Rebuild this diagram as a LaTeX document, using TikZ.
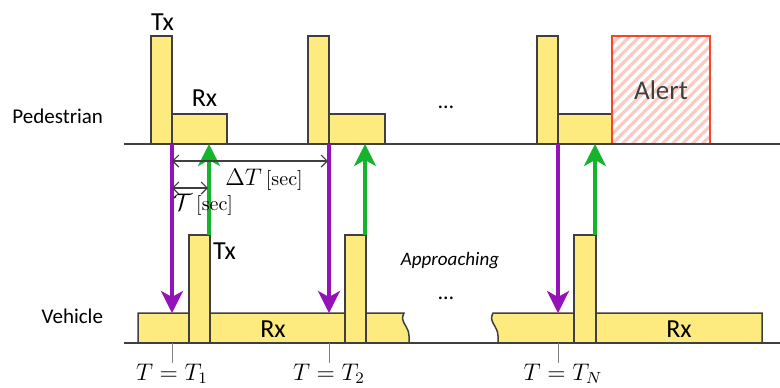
\documentclass[tikz,border=0pt]{standalone}
\usepackage{fontspec}
\setsansfont{Carlito}
\usetikzlibrary{arrows.meta, positioning}
\definecolor{boxyellow}{HTML}{FDEB80}
\definecolor{edgegray}{HTML}{3F3F3F}
\definecolor{sigpurple}{HTML}{9412B8}
\definecolor{ackgreen}{HTML}{14B52C}
\definecolor{alertred}{HTML}{F5462A}
\definecolor{hatchpink}{HTML}{FFC9C0}

\begin{document}
\begin{tikzpicture}[
    x=0.5pt, y=-0.5pt,
    every node/.style = {inner sep=0pt, outer sep=0pt},
    side/.style = {font=\sffamily\fontsize{10.5}{12}\selectfont, anchor=base east},
    slot/.style = {font=\sffamily\fontsize{13}{15}\selectfont},
    mathlab/.style = {font=\fontsize{12}{14}\selectfont, anchor=base},
    tall/.style = {draw=edgegray, line width=0.75pt, fill=boxyellow,
                   minimum width=10.5pt, minimum height=54pt},
    low/.style  = {draw=edgegray, line width=0.75pt, fill=boxyellow,
                   minimum width=27.5pt, minimum height=15pt},
    bar/.style  = {draw=edgegray, line width=0.75pt, fill=boxyellow},
    alertbox/.style = {draw=alertred, line width=0.75pt, minimum width=49pt,
                   minimum height=54pt, text=edgegray,
                   font=\sffamily\fontsize{13.5}{16}\selectfont,
                   path picture={
                     \foreach \k in {-12,...,10}
                       \draw[hatchpink, line width=1.6pt]
                         ([xshift=\k*5pt]path picture bounding box.south west) -- ++(60pt,60pt);
                   }},
    axis/.style = {draw=edgegray, line width=1pt},
    tick/.style = {draw=gray, line width=0.5pt},
    sig/.style  = {-{Stealth[length=11pt, width=11pt, inset=3pt]}, line width=1.8pt, sigpurple},
    ack/.style  = {-{Stealth[length=11pt, width=11pt, inset=3pt]}, line width=1.8pt, ackgreen},
    dim/.style  = {{Straight Barb[length=3pt, width=6pt]}-{Straight Barb[length=3pt, width=6pt]},
                   line width=0.6pt, edgegray},
]
\useasboundingbox (0,0) rectangle (780,387);

% Pedestrian side
\node[tall, anchor=south east] (pTx1) at (172,144) {};
\node[low, anchor=south west] (pRx1) at (pTx1.south east) {};
\node[tall, anchor=south east] (pTx2) at (329,144) {};
\node[low, anchor=south west, minimum width=28pt] (pRx2) at (pTx2.south east) {};
\node[tall, anchor=south east] (pTx3) at (558,144) {};
\node[low, anchor=south west, minimum width=27pt] (pRx3) at (pTx3.south east) {};
\node[alertbox, anchor=south west] (alert) at (pRx3.south east) {Alert};

\node[slot, above=3pt of pTx1, xshift=0.5pt] (pTxLab) {Tx};
\node[slot, above=4pt of pRx1, xshift=2.5pt] (pRxLab) {Rx};
\node[side] (ped) at (103,123) {Pedestrian};
\node[font=\sffamily\fontsize{11}{12}\selectfont, anchor=base] (pDots) at (446,108) {…};

\coordinate (pStart) at (124,144);
\coordinate (pEnd) at (780,144);
\draw[axis] (pStart) -- (pEnd);

% Vehicle side
\draw[bar] (138,343) -- (138,313) -- (404,313)
    .. controls (399,322) and (409,326) .. (409,336) -- (409,343) -- cycle;
\draw[bar] (762,343) -- (762,313) -- (493,313)
    .. controls (488,322) and (498,326) .. (498,336) -- (498,343) -- cycle;
\node[tall, anchor=south east] (vTx1) at (210,343) {};
\node[tall, anchor=south east] (vTx2) at (366,343) {};
\node[tall, anchor=south east, minimum width=11pt] (vTx3) at (596,343) {};

\node[slot, anchor=north west] (vTxLab) at ([xshift=1.5pt, yshift=-4pt]vTx1.north east) {Tx};
\node[slot, anchor=base] (vRxLab1) at (273,337) {Rx};
\node[slot, anchor=base] (vRxLab2) at (679,337) {Rx};
\node[side] (veh) at (103,323) {Vehicle};
\node[font=\sffamily\itshape\fontsize{9.5}{11}\selectfont, anchor=base] (appr) at (450,265) {Approaching};
\node[font=\sffamily\fontsize{11}{12}\selectfont, anchor=base] (vDots) at (446,299) {…};

\coordinate (vStart) at (124,343);
\coordinate (vEnd) at (780,343);
\coordinate (vTop) at (0,313);
\draw[axis] (vStart) -- (vEnd);

% Time marks
\node[mathlab] (t1) at (172,380) {$T=T_1$};
\node[mathlab] (t2) at (329,380) {$T=T_2$};
\node[mathlab] (tN) at (563,380) {$T=T_N$};
\draw[tick] (pTx1.south east |- vStart) -- ++(0,20);
\draw[tick] (pTx2.south east |- vStart) -- ++(0,20);
\draw[tick] (pTx3.south east |- vStart) -- ++(0,20);

% Messages
\draw[sig] (pTx1.south east) -- (pTx1.south east |- vTop);
\draw[sig] (pTx2.south east) -- (pTx2.south east |- vTop);
\draw[sig] (pTx3.south east) -- (pTx3.south east |- vTop);
\draw[ack] ([xshift=-0.5pt]vTx1.north east) -- ([xshift=-0.5pt]vTx1.north east |- pStart);
\draw[ack] ([xshift=-0.5pt]vTx2.north east) -- ([xshift=-0.5pt]vTx2.north east |- pStart);
\draw[ack] ([xshift=-0.5pt]vTx3.north east) -- ([xshift=-0.5pt]vTx3.north east |- pStart);

% Intervals
\coordinate (dTa) at (172,161);
\coordinate (dTb) at (328,161);
\coordinate (tauA) at (172,188);
\coordinate (tauB) at (208,188);
\draw[dim] (dTa) -- (dTb);
\draw[dim] (tauA) -- (tauB);
\node[mathlab] (dTLab) at (264,185) {$\Delta T$\,{\fontsize{10}{12}\selectfont[sec]}};
\node[mathlab] (tauLab) at (203,210) {$\mathcal{T}$\,{\fontsize{10}{12}\selectfont[sec]}};
\end{tikzpicture}
\end{document}
